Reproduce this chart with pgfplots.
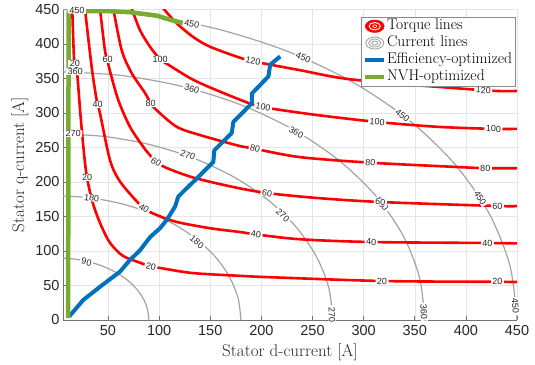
\documentclass[border=0pt]{standalone}
\usepackage{fontspec}
\usepackage{pgfplots}
\pgfplotsset{compat=1.18}
\newfontfamily\tickfont{Liberation Sans}
\definecolor{effblue}{rgb}{0,0.447,0.741}
\definecolor{nvhgreen}{rgb}{0.466,0.674,0.188}
\definecolor{curgray}{rgb}{0.64,0.64,0.64}
\definecolor{txtgray}{rgb}{0.15,0.15,0.15}

\tikzset{
  clab/.style={fill=white, inner xsep=1.5pt, inner ysep=0.3pt,
    font=\tickfont\fontsize{9}{9}\selectfont, text=txtgray},
  torque/.style={red, line width=2.6pt, smooth, tension=0.5},
  current/.style={curgray, line width=1.2pt, smooth},
}

\begin{document}
\begin{tikzpicture}
\begin{axis}[
  scale only axis, width=454pt, height=310.5pt,
  xmin=6, xmax=450, ymin=0, ymax=450,
  xtick={50,100,...,450}, ytick={0,50,...,450},
  axis x line*=bottom, axis y line*=left,
  axis line style={black!55, line width=0.6pt},
  tick align=inside, major tick length=4pt,
  tick style={black!55, line width=0.6pt},
  grid=major, major grid style={black!10, line width=0.5pt},
  /pgf/number format/assume math mode=true,
  tick label style={font=\tickfont\fontsize{14.5}{15}\selectfont, text=txtgray},
  xticklabel style={yshift=-1.5pt},
  label style={font=\fontsize{17}{19}\selectfont, text=txtgray},
  xlabel style={yshift=-1.5pt},
  xlabel={Stator d-current [A]},
  ylabel={Stator q-current [A]},
  clip mode=individual,
  legend cell align=left,
  legend style={at={(0.9956,0.977)}, anchor=north east, draw=black!45,
    fill=white, font=\fontsize{15.5}{17}\selectfont,
    inner xsep=2pt, inner ysep=1pt, row sep=0pt,
    nodes={inner xsep=0.8pt, inner ysep=1pt, text height=11pt, text depth=3.8pt}},
]
\coordinate (sw) at (rel axis cs:0,0);
\coordinate (ne) at (rel axis cs:1,1);

% legend samples
\addlegendimage{legend image code/.code={
  \fill[red] (9.5pt,0pt) ellipse [x radius=9.5pt, y radius=6.3pt];
  \draw[white, line width=0.9pt] (9.5pt,0pt) ellipse [x radius=5.6pt, y radius=3.7pt];
  \draw[white, line width=0.7pt] (9.5pt,0pt) ellipse [x radius=2pt, y radius=1.3pt];
}}
\addlegendentry{Torque lines}
\addlegendimage{legend image code/.code={
  \draw[curgray, line width=0.9pt] (9.5pt,0pt) ellipse [x radius=9pt, y radius=6pt];
  \draw[curgray, line width=0.9pt] (9.5pt,0pt) ellipse [x radius=6pt, y radius=4pt];
  \draw[curgray, line width=0.9pt] (9.5pt,0pt) ellipse [x radius=3pt, y radius=2pt];
}}
\addlegendentry{Current lines}
\addlegendimage{legend image code/.code={
  \draw[effblue, line width=4pt] (0pt,0pt) -- (19pt,0pt);
}}
\addlegendentry{Efficiency-optimized}
\addlegendimage{legend image code/.code={
  \draw[nvhgreen, line width=4pt] (0pt,0pt) -- (19pt,0pt);
}}
\addlegendentry{NVH-optimized}

% constant stator current magnitude [A]
\addplot[current, forget plot] coordinates {(90,0) (88.6,15.6) (84.6,30.8) (77.9,45) (68.9,57.9) (57.9,68.9) (45,77.9) (30.8,84.6) (15.6,88.6) (0,90)};
\addplot[current, forget plot] coordinates {(180,0) (177.3,31.3) (169.1,61.6) (155.9,90) (137.9,115.7) (115.7,137.9) (90,155.9) (61.6,169.1) (31.3,177.3) (0,180)};
\addplot[current, forget plot] coordinates {(270,0) (265.9,46.9) (253.7,92.3) (233.8,135) (206.8,173.6) (173.6,206.8) (135,233.8) (92.3,253.7) (46.9,265.9) (0,270)};
\addplot[current, forget plot] coordinates {(360,0) (354.5,62.5) (338.3,123.1) (311.8,180) (275.8,231.4) (231.4,275.8) (180,311.8) (123.1,338.3) (62.5,354.5) (0,360)};
\addplot[current, forget plot] coordinates {(450,0) (443.2,78.1) (422.9,153.9) (389.7,225) (344.7,289.3) (289.3,344.7) (225,389.7) (153.9,422.9) (78.1,443.2) (0,450)};

% constant torque [Nm]
\addplot[torque, forget plot] coordinates {(15,452) (16.6,384) (17.6,372) (19.6,362) (23.5,290) (28.4,217) (34.3,174) (42.1,141) (51.9,112) (64.6,93) (81.3,83) (92,77.5) (100.9,75.4) (133,68) (179,64) (208.6,62) (318,56.5) (430.8,55.3) (450,55)};
\addplot[torque, forget plot] coordinates {(27.4,452) (34,367) (38.9,319) (42.1,300) (51.9,232) (60.7,203) (74.4,178) (85.2,162) (97.9,152) (117.5,142) (149.8,133) (179.2,127.5) (194.8,124) (238,117) (307.4,113) (421,111.6) (450,111)};
\addplot[torque, forget plot] coordinates {(42.1,452) (47,391) (49.6,377) (51.2,365) (60,319) (71.5,280) (84.5,251) (92.7,236) (97,229) (107.4,220.3) (133.2,206.5) (172.3,192.8) (205.6,184) (254.6,176.8) (316.3,171) (430.8,165.2) (450,165.2)};
\addplot[torque, forget plot] coordinates {(55.1,452) (63.4,391) (73.1,358) (86.2,329) (91.8,314) (97.6,304) (117.2,280) (140,268) (179.2,252) (193.9,248) (238,236) (306.5,228) (387.7,222) (419,220) (450,220)};
\addplot[torque, forget plot] coordinates {(73.1,452) (81.3,420) (91.1,396) (100.9,378) (109,370) (133.5,348) (162.8,329) (191.9,312) (201.7,309) (211.5,306) (254.6,297) (313.3,287) (372,280) (427,277) (450,277)};
\addplot[torque, forget plot] coordinates {(103.8,452) (117.2,430) (133.5,410) (149.8,396) (179.2,380) (191.9,375) (201.7,372) (238,362) (291.8,348) (417,333) (450,332)};

% operating trajectories
\addplot[effblue, line width=4pt, line join=round, forget plot] coordinates {(12,5) (25.8,29) (42.1,48) (61.7,70) (71.5,87) (81.3,101) (91.1,120) (100.9,133) (107.4,145) (115.5,164) (118.8,179) (127,191) (136.8,205) (153,229) (154,246) (171,271) (172.6,287) (190.6,314) (190.6,328) (206.9,353) (208.6,370) (218.4,382)};
\addplot[nvhgreen, line width=4.5pt, line join=round, forget plot] coordinates {(11,3) (11.5,445) (13.5,448) (52,447.5) (72,446) (98,441) (111,435) (127,429)};

% contour labels: current magnitude
\node[clab, rotate=-13] at (axis cs:29,84) {90};
\node[clab, rotate=-7]  at (axis cs:34,177) {180};
\node[clab, rotate=-39] at (axis cs:137,113) {180};
\node[clab, rotate=-2]  at (axis cs:16,270) {270};
\node[clab, rotate=-20] at (axis cs:128,239) {270};
\node[clab, rotate=-44] at (axis cs:221,152) {270};
\node[clab, rotate=-88] at (axis cs:269,8) {270};
\node[clab, rotate=-2]  at (axis cs:18,360) {360};
\node[clab, rotate=-15] at (axis cs:132,335) {360};
\node[clab, rotate=-30] at (axis cs:234,272) {360};
\node[clab, rotate=-52] at (axis cs:318,168) {360};
\node[clab, rotate=-87] at (axis cs:359,12) {360};
\node[clab, rotate=-2]  at (axis cs:19.6,449) {450};
\node[clab, rotate=-12] at (axis cs:132,429) {450};
\node[clab, rotate=-23] at (axis cs:241,380) {450};
\node[clab, rotate=-37] at (axis cs:338,297) {450};
\node[clab, rotate=-58] at (axis cs:414,177) {450};
\node[clab, rotate=-87] at (axis cs:448.5,20) {450};

% contour labels: torque
\node[clab] at (axis cs:17.6,372) {20};
\node[clab] at (axis cs:29.6,207) {20};
\node[clab, rotate=-14] at (axis cs:92,77.5) {20};
\node[clab, rotate=-1] at (axis cs:318,56.5) {20};
\node[clab] at (axis cs:430.8,55.3) {20};
\node[clab] at (axis cs:39.9,312) {40};
\node[clab, rotate=-33] at (axis cs:85.2,162) {40};
\node[clab, rotate=-7] at (axis cs:194.8,124) {40};
\node[clab, rotate=-2] at (axis cs:307.4,113) {40};
\node[clab] at (axis cs:421,111.6) {40};
\node[clab] at (axis cs:49.6,377) {60};
\node[clab, rotate=-30] at (axis cs:97,229) {60};
\node[clab, rotate=-9] at (axis cs:205.6,184) {60};
\node[clab, rotate=-3] at (axis cs:316.3,171) {60};
\node[clab] at (axis cs:430.8,165.2) {60};
\node[clab] at (axis cs:91.8,314) {80};
\node[clab, rotate=-12] at (axis cs:193.9,248) {80};
\node[clab, rotate=-4] at (axis cs:306.5,228) {80};
\node[clab, rotate=-1] at (axis cs:419,220) {80};
\node[clab] at (axis cs:100.9,378) {100};
\node[clab, rotate=-11] at (axis cs:201.7,309) {100};
\node[clab, rotate=-5] at (axis cs:313.3,287) {100};
\node[clab, rotate=-2] at (axis cs:427,277) {100};
\node[clab, rotate=-12] at (axis cs:191.9,375) {120};
\node[clab, rotate=-3] at (axis cs:417,333) {120};
\end{axis}
\pgfresetboundingbox
\path[use as bounding box] ([xshift=-63pt,yshift=-45pt]sw) rectangle ([xshift=18pt,yshift=9.5pt]ne);
\end{tikzpicture}
\end{document}
